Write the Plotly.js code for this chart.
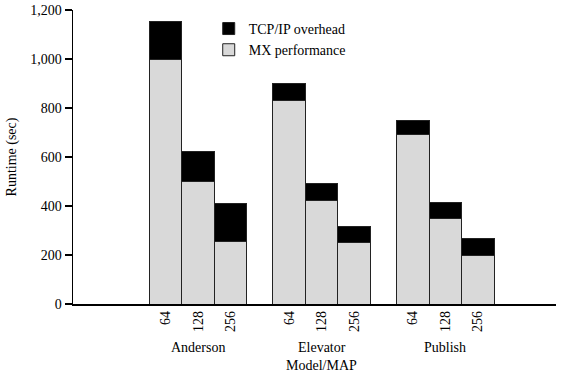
<!DOCTYPE html>
<html><head><meta charset="utf-8">
<script src="https://cdn.plot.ly/plotly-3.0.1.min.js"></script>
<style>body{margin:0;background:#fff}#c{width:564px;height:375px}</style>
</head><body><div id="c"></div>
<script>
const models = ["Anderson", "Elevator", "Publish"];
const maps = ["64", "128", "256"];
const mxPerformance = [1000, 500, 257, 829, 424, 253, 690, 351, 200];
const totalRuntime = [1155, 624, 412, 898, 490, 318, 751, 416, 269];
const tcpOverhead = totalRuntime.map((t, i) => t - mxPerformance[i]);

const groupStep = 3.8;
const xs = [], tickText = [];
models.forEach((m, g) => maps.forEach((p, j) => { xs.push(g * groupStep + j); tickText.push(p); }));
const font = {family: "Liberation Serif", size: 14, color: "#000"};

const traces = [
  {type: "bar", name: "MX performance", x: xs, y: mxPerformance, width: 1,
   marker: {color: "#d9d9d9", line: {color: "#222", width: 1}}},
  {type: "bar", name: "TCP/IP overhead", x: xs, y: tcpOverhead, width: 1,
   marker: {color: "#000", line: {color: "#222", width: 1}}}
];

const annotations = models.map((m, g) => ({
  text: m, x: g * groupStep + 1, xref: "x", y: 0, yref: "paper",
  yanchor: "top", yshift: -34, showarrow: false, font: font
}));
annotations.push({text: "Model/MAP", x: groupStep + 1, xref: "x", y: 0, yref: "paper",
  yanchor: "top", yshift: -52, showarrow: false, font: font});

const layout = {
  width: 564, height: 375,
  margin: {l: 73, r: 8, t: 10, b: 71},
  paper_bgcolor: "#fff", plot_bgcolor: "#fff",
  font: font,
  barmode: "stack", bargap: 0,
  showlegend: true,
  legend: {x: 0.281, y: 0.99, xanchor: "left", yanchor: "top", traceorder: "reversed",
    bgcolor: "rgba(0,0,0,0)", font: font, tracegroupgap: 0},
  xaxis: {range: [-2.84, 12.0], tickvals: xs, ticktext: tickText, tickangle: -90,
    showline: true, linecolor: "#000", linewidth: 1.5, ticks: "", showgrid: false,
    zeroline: false, tickfont: font},
  yaxis: {range: [0, 1200], dtick: 200, tickformat: ",d", showline: true, linecolor: "#000",
    linewidth: 1.5, ticks: "outside", ticklen: 7, tickwidth: 1.5, tickcolor: "#000",
    showgrid: false, zeroline: false, tickfont: font,
    title: {text: "Runtime (sec)", font: font, standoff: 10}},
  annotations: annotations
};
Plotly.newPlot("c", traces, layout, {displayModeBar: false, staticPlot: true});
</script></body></html>
